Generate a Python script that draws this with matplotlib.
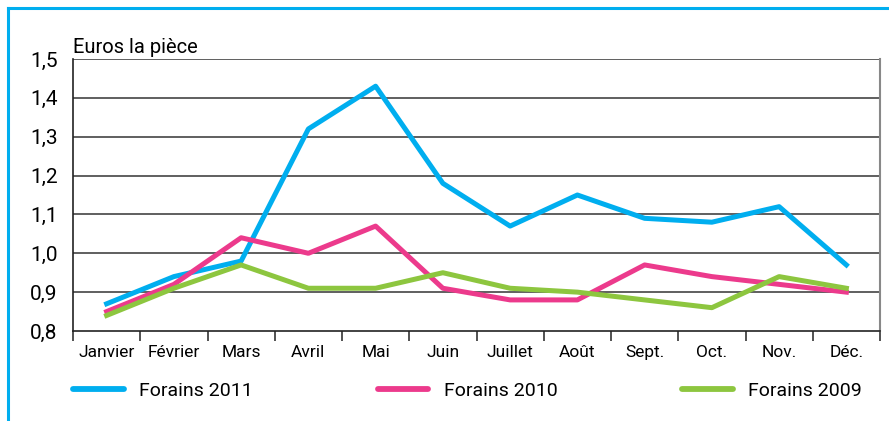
import matplotlib.pyplot as plt
from matplotlib.lines import Line2D

plt.rcParams['font.family'] = ['Roboto', 'DejaVu Sans']

months = ["Janvier", "Février", "Mars", "Avril", "Mai", "Juin",
          "Juillet", "Août", "Sept.", "Oct.", "Nov.", "Déc."]
forains2011 = [0.87, 0.94, 0.98, 1.32, 1.43, 1.18, 1.07, 1.15, 1.09, 1.08, 1.12, 0.97]
forains2010 = [0.85, 0.92, 1.04, 1.00, 1.07, 0.91, 0.88, 0.88, 0.97, 0.94, 0.92, 0.90]
forains2009 = [0.84, 0.91, 0.97, 0.91, 0.91, 0.95, 0.91, 0.90, 0.88, 0.86, 0.94, 0.91]
yticks = [0.8, 0.9, 1.0, 1.1, 1.2, 1.3, 1.4, 1.5]

W, H = 889, 421
fig = plt.figure(figsize=(W / 100, H / 100), dpi=100)
ax = fig.add_axes([73 / W, (H - 331) / H, (880 - 73) / W, (331 - 59) / H])

x = list(range(len(months)))
ax.plot(x, forains2011, color="#00AEEF", lw=3.6, label="Forains 2011", zorder=3)
ax.plot(x, forains2010, color="#EC3A8C", lw=3.6, label="Forains 2010", zorder=3)
ax.plot(x, forains2009, color="#8DC63F", lw=3.6, label="Forains 2009", zorder=3)

ax.set_xlim(-0.5, 11.5)
ax.set_ylim(0.8, 1.5)
ax.set_yticks(yticks)
ax.set_yticklabels([("%.1f" % v).replace(".", ",") for v in yticks], fontsize=15)
ax.tick_params(axis="y", length=0, pad=11)
ax.set_xticks(x)
ax.set_xticklabels(months, fontsize=12.5)
ax.set_xticks([i - 0.5 for i in range(13)], minor=True)
ax.tick_params(axis="x", which="major", length=0, pad=10)
ax.tick_params(axis="x", which="minor", length=7, width=1.2, color="#333333")
for v in yticks[1:]:
    ax.axhline(v, color="#444444", lw=1.2, zorder=1)
ax.spines["top"].set_visible(False)
ax.spines["right"].set_color("#888888")
ax.spines["right"].set_linewidth(1.5)
ax.spines["left"].set_color("#222222")
ax.spines["bottom"].set_color("#222222")
ax.spines["left"].set_linewidth(1.2)
ax.spines["bottom"].set_linewidth(1.2)

fig.text(73 / W, (H - 53) / H, "Euros la pièce", fontsize=14.5, ha="left", va="baseline")

leg = ax.legend(loc="center left", bbox_to_anchor=(0, -0.245, (862 - 73) / (880 - 73), 0.05),
                ncol=3, mode="expand", frameon=False, fontsize=14, handlelength=2.6,
                handletextpad=0.8, borderpad=0, borderaxespad=0)
for h in leg.get_lines():
    h.set_linewidth(4.2)
    h.set_solid_capstyle("round")

# blue frame around the figure
fig.add_artist(Line2D([8 / W, 1], [1 - 8 / H, 1 - 8 / H], color="#00AEEF", lw=2.2,
                      transform=fig.transFigure))
fig.add_artist(Line2D([8 / W, 8 / W], [0, 1 - 8 / H], color="#00AEEF", lw=2.2,
                      transform=fig.transFigure))

fig.savefig("out.png", dpi=100)
